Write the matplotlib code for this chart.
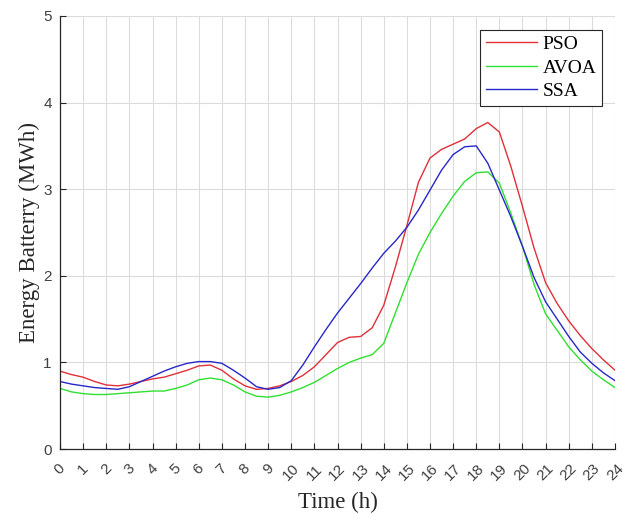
import matplotlib
matplotlib.use('Agg')
import matplotlib.pyplot as plt
import numpy as np

# sample times (h), read every half hour off the reference curves
hours = [0, 0.5, 1, 1.5, 2, 2.5, 3, 3.5, 4, 4.5, 5, 5.5, 6, 6.5, 7, 7.5, 8, 8.5,
         9, 9.5, 10, 10.5, 11, 11.5, 12, 12.5, 13, 13.5, 14, 14.5, 15, 15.5, 16,
         16.5, 17, 17.5, 18, 18.5, 19, 19.5, 20, 20.5, 21, 21.5, 22, 22.5, 23,
         23.5, 24]

pso = [0.90, 0.86, 0.83, 0.78, 0.74, 0.73, 0.75, 0.78, 0.81, 0.83, 0.87, 0.91,
       0.96, 0.97, 0.91, 0.81, 0.73, 0.69, 0.70, 0.73, 0.78, 0.85, 0.95, 1.09,
       1.23, 1.29, 1.30, 1.40, 1.66, 2.10, 2.58, 3.08, 3.36, 3.46, 3.52, 3.58,
       3.70, 3.77, 3.66, 3.26, 2.80, 2.32, 1.92, 1.68, 1.48, 1.31, 1.16, 1.03,
       0.91]

avoa = [0.70, 0.66, 0.64, 0.63, 0.63, 0.64, 0.65, 0.66, 0.67, 0.67, 0.70, 0.74,
        0.80, 0.82, 0.80, 0.74, 0.66, 0.61, 0.60, 0.62, 0.66, 0.71, 0.77, 0.85,
        0.93, 1.00, 1.05, 1.09, 1.22, 1.57, 1.92, 2.25, 2.50, 2.72, 2.92, 3.09,
        3.19, 3.20, 3.07, 2.72, 2.34, 1.90, 1.56, 1.37, 1.18, 1.03, 0.90, 0.80,
        0.71]

ssa = [0.78, 0.75, 0.73, 0.71, 0.70, 0.69, 0.72, 0.78, 0.84, 0.90, 0.95, 0.99,
       1.01, 1.01, 0.99, 0.91, 0.82, 0.72, 0.69, 0.71, 0.79, 0.97, 1.18, 1.38,
       1.57, 1.74, 1.91, 2.09, 2.26, 2.40, 2.56, 2.76, 2.99, 3.22, 3.40, 3.49,
       3.50, 3.30, 2.99, 2.68, 2.34, 1.98, 1.70, 1.50, 1.30, 1.12, 0.99, 0.88,
       0.79]

xticks = list(range(0, 25))
yticks = [0, 1, 2, 3, 4, 5]

fig = plt.figure(figsize=(6.35, 5.15), dpi=100)
ax = fig.add_axes([0.0945, 0.128, 0.874, 0.841])

ax.plot(hours, pso, color='#e0303a', lw=1.0, label='PSO')
ax.plot(hours, avoa, color='#30e030', lw=1.0, label='AVOA')
ax.plot(hours, ssa, color='#2828c8', lw=1.0, label='SSA')

ax.set_xlim(0, 24)
ax.set_ylim(0, 5)
ax.set_xticks(xticks)
ax.set_yticks(yticks)
ax.set_xticklabels([str(t) for t in xticks], rotation=45, family='Liberation Sans',
                   fontsize=11, color='#404040')
ax.set_yticklabels([str(t) for t in yticks], family='Liberation Sans',
                   fontsize=11, color='#404040')
ax.tick_params(direction='in', length=4, width=0.8, color='#262626')
ax.tick_params(axis='x', pad=9)
ax.tick_params(axis='y', pad=6)

ax.grid(True, color='#dcdcdc', lw=0.8)
ax.set_axisbelow(True)
for s in ['top', 'right']:
    ax.spines[s].set_visible(False)
for s in ['left', 'bottom']:
    ax.spines[s].set_color('#262626')
    ax.spines[s].set_linewidth(0.9)

ax.set_xlabel('Time (h)', family='Liberation Serif', fontsize=16.5, color='#262626', labelpad=6)
ax.set_ylabel('Energy Batterry (MWh)', family='Liberation Serif', fontsize=16.5,
              color='#262626', labelpad=2)

leg = ax.legend(loc='upper right', bbox_to_anchor=(0.977, 0.968), fancybox=False,
                prop={'family': 'Liberation Serif', 'size': 14}, handlelength=2.6,
                handletextpad=0.3, labelspacing=0.3, borderpad=0.3, borderaxespad=0)
leg.get_frame().set_edgecolor('#262626')
leg.get_frame().set_linewidth(0.8)
leg.get_frame().set_alpha(1)

plt.savefig('out.png', dpi=100)
